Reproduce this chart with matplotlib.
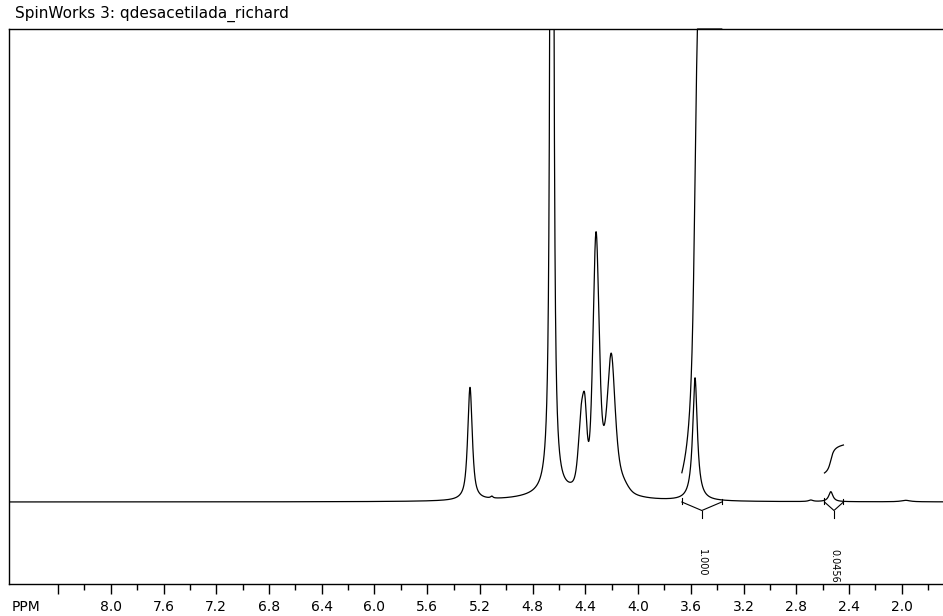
import numpy as np
import matplotlib
matplotlib.use('Agg')
import matplotlib.pyplot as plt

# peaks (ppm, height above baseline, half width in ppm, lorentzian fraction)
peak_ppm    = [5.275, 5.110, 4.654, 4.650, 4.432, 4.404, 4.260, 4.319, 4.203, 4.114, 3.568, 2.690, 2.538, 1.970]
peak_height = [113.0, 2.0,   8000., 5.0,   64.0,  58.0,  18.0,  244.0, 128.0, 5.0,   123.0, 1.5,   10.0,  1.5]
peak_width  = [0.0205, 0.010, 0.0042, 0.30, 0.025, 0.019, 0.085, 0.0270, 0.0360, 0.045, 0.021, 0.020, 0.019, 0.040]
peak_eta    = [0.8,   1.0,   1.0,   1.0,   0.5,   0.4,   1.0,   0.4,   0.7,   0.0,   1.0,   1.0,   1.0,   1.0]

# integral regions (start ppm, end ppm) and their values
int_start = [3.668, 2.586]
int_end   = [3.365, 2.442]
int_value = [1.000, 0.0456]
int_label = ['1.000', '0.0456']

major_ticks = [8.4, 8.0, 7.6, 7.2, 6.8, 6.4, 6.0, 5.6, 5.2, 4.8, 4.4, 4.0, 3.6, 3.2, 2.8, 2.4, 2.0]
major_labels = ['', '8.0', '7.6', '7.2', '6.8', '6.4', '6.0', '5.6', '5.2', '4.8', '4.4', '4.0', '3.6', '3.2', '2.8', '2.4', '2.0']
minor_ticks = [8.2, 7.8, 7.4, 7.0, 6.6, 6.2, 5.8, 5.4, 5.0, 4.6, 4.2, 3.8, 3.4, 3.0, 2.6, 2.2, 1.8]

ppm_left, ppm_right = 8.772, 1.687
y_bottom, y_top = -82, 473
int_offset = 29.0
int_scale = 614.0   # pixel rise of the 1.000 integral

ppm = np.arange(ppm_left, ppm_right, -0.0005)
spec = np.zeros_like(ppm)
for c, h, w, eta in zip(peak_ppm, peak_height, peak_width, peak_eta):
    d = ppm - c
    spec += h * (eta * w**2 / (d**2 + w**2) + (1 - eta) * np.exp(-np.log(2) * d**2 / w**2))

fig = plt.figure(figsize=(9.43, 6.16), dpi=100)
ax = fig.add_axes([9/943, 1-584/616, 1-9/943, 555/616])
ax.plot(ppm, spec, color='black', lw=0.9)

for s, e, v, lab in zip(int_start, int_end, int_value, int_label):
    m = (ppm <= s) & (ppm >= e)
    cum = np.cumsum(spec[m])
    cum = cum / cum[-1]
    curve = np.minimum(int_offset + v * int_scale * cum, y_top)
    ax.plot(ppm[m], curve, color='black', lw=0.9, clip_on=False)
    mid = (s + e) / 2
    ax.plot([s, mid, e], [0, -8.5, 0], color='black', lw=0.8)
    ax.plot([mid, mid], [-8.5, -16], color='black', lw=0.8)
    ax.plot([s, s], [-2, 4], color='black', lw=0.8)
    ax.plot([e, e], [-2, 3], color='black', lw=0.8)
    ax.text(mid, -47, lab, rotation=270, ha='center', va='top', fontsize=7)

ax.set_xlim(ppm_left, ppm_right)
ax.set_ylim(y_bottom, y_top)
ax.set_xticks(major_ticks)
ax.set_xticklabels(major_labels)
ax.set_xticks(minor_ticks, minor=True)
ax.set_yticks([])
ax.tick_params(axis='x', which='major', length=7.2, width=1, pad=4.5, labelsize=10)
ax.tick_params(axis='x', which='minor', length=4.3, width=1)
ax.spines['right'].set_visible(False)
for sp in ['left', 'top', 'bottom']:
    ax.spines[sp].set_linewidth(1)

fig.text(15/943, 1-14/616, 'SpinWorks 3: qdesacetilada_richard', fontsize=11, va='center', ha='left')
fig.text(12/943, 1-607/616, 'PPM', fontsize=10, va='center', ha='left')

fig.savefig('out.png', dpi=100)
